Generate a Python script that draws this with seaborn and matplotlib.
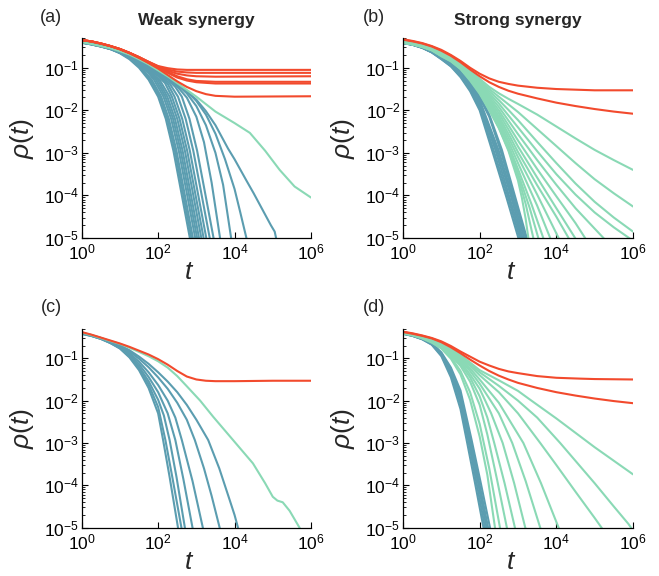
import numpy as np
import pandas as pd
import seaborn as sns
import matplotlib.pyplot as plt
from matplotlib.ticker import LogLocator, NullLocator

# curves are stored as (log10 t, log10 rho) pairs
BLUE = "#5b9db0"
GREEN = "#8ad9b5"
RED = "#f24a2d"

# ---------------- panel (a): weak synergy ----------------
A_BLUE = [
    [(0, -0.41), (0.25, -0.45), (0.5, -0.5), (0.75, -0.56), (1, -0.66), (1.25, -0.8), (1.5, -1.0), (1.75, -1.28), (2.0, -1.68), (2.2, -2.2), (2.4, -2.95), (2.6, -3.9), (2.83, -5.0), (2.9, -5.4)],
    [(0, -0.41), (0.25, -0.45), (0.5, -0.5), (0.75, -0.56), (1, -0.65), (1.25, -0.78), (1.5, -0.97), (1.79, -1.28), (2.04, -1.68), (2.24, -2.2), (2.44, -2.95), (2.64, -3.9), (2.87, -5.0), (2.94, -5.4)],
    [(0, -0.41), (0.25, -0.45), (0.5, -0.5), (0.75, -0.56), (1, -0.65), (1.25, -0.77), (1.5, -0.95), (1.83, -1.28), (2.08, -1.68), (2.28, -2.2), (2.48, -2.95), (2.68, -3.9), (2.91, -5.0), (2.98, -5.4)],
    [(0, -0.41), (0.25, -0.45), (0.5, -0.5), (0.75, -0.56), (1, -0.64), (1.25, -0.76), (1.5, -0.93), (1.75, -1.13), (1.89, -1.28), (2.14, -1.68), (2.34, -2.2), (2.54, -2.95), (2.74, -3.9), (2.97, -5.0), (3.04, -5.4)],
    [(0, -0.4), (0.25, -0.44), (0.5, -0.49), (0.75, -0.55), (1, -0.64), (1.25, -0.75), (1.5, -0.91), (1.75, -1.1), (1.94, -1.28), (2.19, -1.68), (2.39, -2.2), (2.59, -2.95), (2.79, -3.9), (3.02, -5.0), (3.09, -5.4)],
    [(0, -0.4), (0.25, -0.44), (0.5, -0.49), (0.75, -0.55), (1, -0.63), (1.25, -0.74), (1.5, -0.9), (1.75, -1.08), (1.99, -1.28), (2.24, -1.68), (2.44, -2.2), (2.64, -2.95), (2.84, -3.9), (3.07, -5.0), (3.14, -5.4)],
    [(0, -0.4), (0.25, -0.44), (0.5, -0.49), (0.75, -0.55), (1, -0.63), (1.25, -0.73), (1.5, -0.88), (1.75, -1.05), (2.05, -1.3), (2.3, -1.68), (2.5, -2.2), (2.7, -2.95), (2.9, -3.9), (3.13, -5.0), (3.2, -5.4)],
    [(0, -0.4), (0.25, -0.44), (0.5, -0.49), (0.75, -0.55), (1, -0.62), (1.25, -0.72), (1.5, -0.87), (1.75, -1.03), (2.0, -1.2), (2.18, -1.36), (2.36, -1.68), (2.56, -2.2), (2.76, -2.95), (2.96, -3.9), (3.19, -5.0), (3.26, -5.4)],
    [(0, -0.4), (0.25, -0.44), (0.5, -0.49), (0.75, -0.55), (1, -0.62), (1.25, -0.72), (1.5, -0.86), (1.75, -1.01), (2.0, -1.17), (2.25, -1.38), (2.43, -1.68), (2.63, -2.2), (2.83, -2.95), (3.03, -3.9), (3.26, -5.0), (3.33, -5.4)],
    [(0, -0.4), (0.25, -0.44), (0.5, -0.49), (0.75, -0.55), (1, -0.61), (1.25, -0.71), (1.5, -0.85), (1.75, -0.99), (2.0, -1.14), (2.3, -1.37), (2.52, -1.68), (2.72, -2.2), (2.92, -2.95), (3.12, -3.9), (3.35, -5.0), (3.42, -5.4)],
    [(0, -0.4), (0.25, -0.44), (0.5, -0.49), (0.75, -0.55), (1, -0.61), (1.25, -0.7), (1.5, -0.84), (1.75, -0.98), (2.0, -1.12), (2.25, -1.28), (2.45, -1.45), (2.62, -1.68), (2.82, -2.2), (3.02, -2.95), (3.22, -3.9), (3.45, -5.0), (3.52, -5.4)],
    [(0, -0.4), (0.25, -0.44), (0.5, -0.49), (0.75, -0.54), (1, -0.61), (1.25, -0.7), (1.5, -0.82), (1.75, -0.95), (2, -1.11), (2.25, -1.26), (2.5, -1.44), (2.75, -1.7), (3.0, -2.15), (3.2, -2.75), (3.4, -3.7), (3.62, -5.0), (3.67, -5.4)],
    [(0, -0.4), (0.25, -0.44), (0.5, -0.49), (0.75, -0.54), (1, -0.61), (1.25, -0.7), (1.5, -0.81), (1.75, -0.94), (2, -1.1), (2.25, -1.24), (2.5, -1.4), (2.75, -1.6), (3.0, -1.9), (3.25, -2.35), (3.5, -3.0), (3.7, -3.75), (3.91, -5.0), (3.95, -5.3)],
    [(0, -0.4), (0.25, -0.44), (0.5, -0.49), (0.75, -0.54), (1, -0.61), (1.25, -0.7), (1.5, -0.81), (1.75, -0.94), (2, -1.09), (2.5, -1.38), (2.75, -1.55), (3.0, -1.78), (3.25, -2.1), (3.5, -2.55), (3.75, -3.15), (4.0, -3.85), (4.15, -4.4), (4.31, -5.0), (4.35, -5.3)],
    [(0, -0.4), (0.25, -0.44), (0.5, -0.49), (0.75, -0.54), (1, -0.61), (1.25, -0.7), (1.5, -0.81), (1.75, -0.94), (2, -1.08), (2.5, -1.37), (3.0, -1.75), (3.25, -2.02), (3.5, -2.35), (3.83, -2.9), (4.0, -3.15), (4.31, -3.65), (4.5, -3.95), (4.74, -4.35), (4.95, -4.7), (5.05, -4.85), (5.11, -5.1)],
]
A_GREEN = [
    [(0, -0.4), (0.25, -0.44), (0.5, -0.49), (0.75, -0.54), (1, -0.61), (1.25, -0.69), (1.5, -0.8), (1.75, -0.92), (2, -1.06), (2.25, -1.2), (2.5, -1.36), (2.75, -1.52), (3, -1.68), (3.5, -2.03), (4, -2.3), (4.4, -2.53), (4.8, -2.95), (5.18, -3.4), (5.57, -3.79), (6, -4.05)],
]
A_RED = [
    [(0, -0.35), (0.25, -0.38), (0.5, -0.43), (0.75, -0.49), (1, -0.56), (1.25, -0.65), (1.5, -0.75), (1.75, -0.86), (2, -0.96), (2.25, -1.01), (2.5, -1.04), (2.75, -1.05), (3, -1.05), (6, -1.05)],
    [(0, -0.35), (0.25, -0.38), (0.5, -0.43), (0.75, -0.49), (1, -0.56), (1.25, -0.65), (1.5, -0.75), (1.75, -0.86), (2, -0.97), (2.25, -1.04), (2.5, -1.09), (2.75, -1.11), (3, -1.12), (6, -1.12)],
    [(0, -0.35), (0.25, -0.38), (0.5, -0.43), (0.75, -0.49), (1, -0.56), (1.25, -0.65), (1.5, -0.75), (1.75, -0.87), (2, -0.98), (2.25, -1.07), (2.5, -1.14), (2.75, -1.18), (3, -1.2), (3.5, -1.21), (6, -1.2)],
    [(0, -0.35), (0.25, -0.38), (0.5, -0.43), (0.75, -0.49), (1, -0.56), (1.25, -0.65), (1.5, -0.76), (1.75, -0.87), (2, -0.99), (2.25, -1.1), (2.5, -1.2), (2.75, -1.27), (3, -1.31), (3.5, -1.33), (6, -1.33)],
    [(0, -0.35), (0.25, -0.38), (0.5, -0.43), (0.75, -0.49), (1, -0.56), (1.25, -0.65), (1.5, -0.76), (1.75, -0.88), (2, -1.0), (2.25, -1.12), (2.5, -1.23), (2.75, -1.3), (3, -1.34), (3.5, -1.37), (6, -1.37)],
    [(0, -0.35), (0.25, -0.38), (0.5, -0.43), (0.75, -0.49), (1, -0.57), (1.25, -0.66), (1.5, -0.77), (1.75, -0.89), (2, -1.02), (2.25, -1.17), (2.5, -1.32), (2.75, -1.45), (3, -1.55), (3.25, -1.62), (3.5, -1.66), (4, -1.68), (6, -1.67)],
]

# ---------------- panel (b): strong synergy ----------------
B_BLUE = [
    [(0, -0.42), (0.25, -0.46), (0.5, -0.53), (0.75, -0.64), (1, -0.8), (1.25, -0.97), (1.5, -1.22), (1.75, -1.55), (2.0, -2.0), (2.32, -2.93), (2.7, -4.05), (3.01, -5.0), (3.05, -5.15)],
    [(0, -0.42), (0.25, -0.46), (0.5, -0.53), (0.75, -0.64), (1, -0.79), (1.25, -0.96), (1.5, -1.19), (1.75, -1.51), (2.0, -1.94), (2.36, -2.93), (2.74, -4.04), (3.05, -5.0), (3.09, -5.15)],
    [(0, -0.42), (0.25, -0.46), (0.5, -0.53), (0.75, -0.63), (1, -0.78), (1.25, -0.94), (1.5, -1.16), (1.75, -1.47), (2.0, -1.88), (2.41, -2.93), (2.77, -4.02), (3.09, -5.0), (3.13, -5.15)],
    [(0, -0.42), (0.25, -0.46), (0.5, -0.53), (0.75, -0.63), (1, -0.77), (1.25, -0.93), (1.5, -1.14), (1.75, -1.43), (2.0, -1.82), (2.45, -2.93), (2.81, -4.0), (3.12, -5.0), (3.16, -5.15)],
    [(0, -0.41), (0.25, -0.45), (0.5, -0.52), (0.75, -0.62), (1, -0.76), (1.25, -0.91), (1.5, -1.12), (1.75, -1.4), (2.0, -1.76), (2.49, -2.93), (2.84, -3.98), (3.16, -5.0), (3.2, -5.15)],
    [(0, -0.41), (0.25, -0.45), (0.5, -0.52), (0.75, -0.62), (1, -0.75), (1.25, -0.9), (1.5, -1.1), (1.75, -1.36), (2.0, -1.7), (2.25, -2.15), (2.54, -2.93), (2.87, -3.96), (3.2, -5.0), (3.24, -5.15)],
    [(0, -0.41), (0.25, -0.45), (0.5, -0.52), (0.75, -0.61), (1, -0.74), (1.25, -0.88), (1.5, -1.07), (1.75, -1.32), (2.0, -1.65), (2.25, -2.1), (2.58, -2.93), (2.9, -3.95), (3.23, -5.0), (3.27, -5.15)],
]
B_GREEN = [
    [(0, -0.38), (0.25, -0.42), (0.5, -0.47), (0.75, -0.53), (1, -0.6), (1.25, -0.72), (1.5, -0.86), (1.75, -1.05), (2, -1.26), (2.25, -1.45), (2.5, -1.6), (2.75, -1.73), (3, -1.85), (3.5, -2.1), (4, -2.38), (4.5, -2.66), (5, -2.93), (5.5, -3.17), (6, -3.4)],
    [(0, -0.38), (0.25, -0.42), (0.5, -0.47), (0.75, -0.53), (1, -0.61), (1.25, -0.73), (1.5, -0.88), (1.75, -1.08), (2, -1.3), (2.25, -1.5), (2.5, -1.68), (2.75, -1.86), (3, -2.04), (3.5, -2.44), (4, -2.84), (4.5, -3.24), (5, -3.62), (5.5, -3.95), (6, -4.26)],
    [(0, -0.39), (0.25, -0.43), (0.5, -0.48), (0.75, -0.54), (1, -0.62), (1.25, -0.74), (1.5, -0.9), (1.75, -1.1), (2, -1.33), (2.25, -1.55), (2.5, -1.76), (2.75, -1.99), (3, -2.23), (3.5, -2.74), (4, -3.24), (4.5, -3.72), (5, -4.15), (5.5, -4.52), (6, -4.85)],
    [(0, -0.39), (0.25, -0.43), (0.5, -0.48), (0.75, -0.54), (1, -0.63), (1.25, -0.75), (1.5, -0.92), (1.75, -1.12), (2, -1.36), (2.25, -1.6), (2.5, -1.84), (2.75, -2.12), (3, -2.4), (3.5, -2.96), (4, -3.5), (4.5, -3.98), (5, -4.4), (5.5, -4.75), (5.93, -5.02)],
    [(0, -0.39), (0.25, -0.43), (0.5, -0.48), (0.75, -0.55), (1, -0.64), (1.25, -0.76), (1.5, -0.93), (1.75, -1.14), (2, -1.39), (2.25, -1.65), (2.5, -1.92), (2.75, -2.24), (3, -2.56), (3.5, -3.17), (4, -3.75), (4.5, -4.3), (5, -4.78), (5.23, -5.0), (5.3, -5.08)],
    [(0, -0.4), (0.25, -0.44), (0.5, -0.49), (0.75, -0.55), (1, -0.65), (1.25, -0.77), (1.5, -0.94), (1.75, -1.16), (2, -1.42), (2.25, -1.7), (2.5, -2.0), (2.75, -2.35), (3, -2.71), (3.5, -3.38), (4, -4.02), (4.5, -4.65), (4.75, -5.0), (4.8, -5.08)],
    [(0, -0.4), (0.25, -0.44), (0.5, -0.49), (0.75, -0.56), (1, -0.66), (1.25, -0.78), (1.5, -0.96), (1.75, -1.18), (2, -1.45), (2.25, -1.75), (2.5, -2.07), (2.75, -2.45), (3, -2.85), (3.5, -3.58), (4, -4.3), (4.49, -5.0), (4.54, -5.08)],
    [(0, -0.4), (0.25, -0.44), (0.5, -0.49), (0.75, -0.56), (1, -0.67), (1.25, -0.79), (1.5, -0.97), (1.75, -1.2), (2, -1.48), (2.25, -1.8), (2.5, -2.14), (2.75, -2.55), (3, -2.98), (3.5, -3.76), (4, -4.5), (4.32, -5.0), (4.37, -5.08)],
    [(0, -0.4), (0.25, -0.44), (0.5, -0.5), (0.75, -0.57), (1, -0.68), (1.25, -0.8), (1.5, -0.98), (1.75, -1.22), (2, -1.5), (2.25, -1.84), (2.5, -2.2), (2.75, -2.64), (3, -3.1), (3.5, -3.98), (4.06, -5.0), (4.1, -5.08)],
    [(0, -0.41), (0.25, -0.45), (0.5, -0.5), (0.75, -0.57), (1, -0.69), (1.25, -0.81), (1.5, -0.99), (1.75, -1.24), (2, -1.53), (2.25, -1.88), (2.5, -2.26), (2.75, -2.73), (3, -3.24), (3.5, -4.24), (3.84, -5.0), (3.88, -5.08)],
    [(0, -0.41), (0.25, -0.45), (0.5, -0.5), (0.75, -0.58), (1, -0.7), (1.25, -0.82), (1.5, -1.0), (1.75, -1.25), (2, -1.55), (2.25, -1.92), (2.5, -2.32), (2.75, -2.82), (3, -3.38), (3.35, -4.2), (3.66, -5.0), (3.7, -5.08)],
    [(0, -0.41), (0.25, -0.45), (0.5, -0.51), (0.75, -0.58), (1, -0.71), (1.25, -0.83), (1.5, -1.01), (1.75, -1.27), (2, -1.57), (2.25, -1.95), (2.5, -2.37), (2.75, -2.88), (3, -3.48), (3.3, -4.28), (3.53, -5.0), (3.57, -5.08)],
    [(0, -0.41), (0.25, -0.45), (0.5, -0.51), (0.75, -0.59), (1, -0.72), (1.25, -0.84), (1.5, -1.02), (1.75, -1.28), (2, -1.59), (2.25, -1.98), (2.5, -2.4), (2.75, -2.92), (3, -3.55), (3.2, -4.2), (3.4, -5.0), (3.44, -5.1)],
    [(0, -0.41), (0.25, -0.45), (0.5, -0.51), (0.75, -0.59), (1, -0.73), (1.25, -0.85), (1.5, -1.03), (1.75, -1.3), (2, -1.61), (2.25, -2.0), (2.5, -2.42), (2.75, -2.95), (3, -3.65), (3.1, -4.05), (3.2, -4.55), (3.27, -5.0), (3.3, -5.1)],
]
B_RED = [
    [(0, -0.33), (0.25, -0.37), (0.5, -0.42), (0.75, -0.49), (1, -0.58), (1.25, -0.7), (1.5, -0.84), (1.75, -1.0), (2, -1.14), (2.25, -1.25), (2.5, -1.33), (2.75, -1.38), (3, -1.42), (3.5, -1.47), (4, -1.5), (5, -1.53), (6, -1.53)],
    [(0, -0.34), (0.25, -0.38), (0.5, -0.43), (0.75, -0.5), (1, -0.6), (1.25, -0.72), (1.5, -0.87), (1.75, -1.04), (2, -1.2), (2.25, -1.34), (2.5, -1.45), (2.75, -1.54), (3, -1.61), (3.5, -1.72), (4, -1.82), (4.5, -1.9), (5, -1.97), (5.5, -2.03), (6, -2.08)],
]

# ---------------- panel (c) ----------------
C_BLUE = [
    [(0, -0.42), (0.25, -0.47), (0.5, -0.54), (0.75, -0.64), (1, -0.77), (1.25, -0.98), (1.5, -1.28), (1.75, -1.7), (2.0, -2.3), (2.13, -2.93), (2.3, -3.8), (2.52, -5.0), (2.56, -5.25)],
    [(0, -0.42), (0.25, -0.47), (0.5, -0.54), (0.75, -0.64), (1, -0.76), (1.25, -0.96), (1.5, -1.24), (1.75, -1.62), (2.0, -2.15), (2.19, -2.93), (2.38, -3.85), (2.61, -5.0), (2.65, -5.25)],
    [(0, -0.42), (0.25, -0.47), (0.5, -0.54), (0.75, -0.63), (1, -0.75), (1.25, -0.94), (1.5, -1.2), (1.75, -1.54), (2.0, -1.98), (2.15, -2.35), (2.3, -2.93), (2.48, -3.8), (2.7, -5.0), (2.74, -5.25)],
    [(0, -0.41), (0.25, -0.46), (0.5, -0.53), (0.75, -0.62), (1, -0.73), (1.25, -0.91), (1.5, -1.14), (1.75, -1.44), (2.0, -1.8), (2.25, -2.3), (2.45, -2.93), (2.66, -3.85), (2.9, -5.0), (2.94, -5.25)],
    [(0, -0.41), (0.25, -0.46), (0.5, -0.53), (0.75, -0.62), (1, -0.72), (1.25, -0.88), (1.5, -1.08), (1.75, -1.33), (2.0, -1.63), (2.25, -2.0), (2.45, -2.4), (2.62, -2.93), (2.9, -3.9), (3.17, -5.0), (3.21, -5.25)],
    [(0, -0.41), (0.25, -0.46), (0.5, -0.52), (0.75, -0.61), (1, -0.7), (1.25, -0.84), (1.5, -1.01), (1.75, -1.21), (2.0, -1.45), (2.25, -1.72), (2.5, -2.05), (2.75, -2.45), (2.96, -2.93), (3.2, -3.6), (3.4, -4.25), (3.61, -5.0), (3.65, -5.25)],
    [(0, -0.4), (0.25, -0.45), (0.5, -0.52), (0.75, -0.6), (1, -0.69), (1.25, -0.81), (1.5, -0.96), (1.75, -1.13), (2.0, -1.33), (2.25, -1.55), (2.5, -1.8), (2.75, -2.1), (3.0, -2.45), (3.31, -2.93), (3.6, -3.6), (3.87, -4.34), (4.0, -4.7), (4.09, -5.0), (4.12, -5.2)],
]
C_GREEN = [
    [(0, -0.39), (0.25, -0.45), (0.5, -0.52), (0.75, -0.59), (1, -0.66), (1.25, -0.75), (1.5, -0.85), (1.75, -0.95), (2, -1.07), (2.25, -1.22), (2.5, -1.42), (2.75, -1.66), (3.1, -2.0), (3.44, -2.38), (3.96, -2.93), (4.48, -3.48), (4.8, -3.95), (5.0, -4.27), (5.12, -4.36), (5.26, -4.4), (5.44, -4.6), (5.7, -5.0), (5.75, -5.1)],
]
C_RED = [
    [(0, -0.38), (0.25, -0.44), (0.5, -0.51), (0.75, -0.58), (1, -0.65), (1.25, -0.73), (1.5, -0.82), (1.75, -0.91), (2, -1.02), (2.25, -1.15), (2.5, -1.3), (2.75, -1.43), (3, -1.5), (3.25, -1.53), (3.5, -1.54), (4, -1.54), (5, -1.53), (6, -1.53)],
]

# ---------------- panel (d) ----------------
D_BLUE = [
    [(0, -0.42), (0.25, -0.47), (0.5, -0.55), (0.75, -0.68), (1.0, -0.95), (1.25, -1.45), (1.5, -2.2), (1.66, -2.93), (1.88, -3.95), (2.1, -5.0), (2.14, -5.2)],
    [(0, -0.42), (0.25, -0.47), (0.5, -0.55), (0.75, -0.67), (1.0, -0.92), (1.25, -1.38), (1.5, -2.07), (1.7, -2.93), (1.92, -3.95), (2.14, -5.0), (2.18, -5.2)],
    [(0, -0.42), (0.25, -0.47), (0.5, -0.54), (0.75, -0.66), (1.0, -0.9), (1.25, -1.32), (1.5, -1.95), (1.73, -2.93), (1.96, -3.95), (2.18, -5.0), (2.22, -5.2)],
    [(0, -0.41), (0.25, -0.46), (0.5, -0.54), (0.75, -0.65), (1.0, -0.88), (1.25, -1.27), (1.5, -1.85), (1.76, -2.93), (1.99, -3.95), (2.22, -5.0), (2.26, -5.2)],
    [(0, -0.41), (0.25, -0.46), (0.5, -0.53), (0.75, -0.64), (1.0, -0.86), (1.25, -1.22), (1.5, -1.76), (1.79, -2.93), (2.03, -3.95), (2.27, -5.0), (2.31, -5.2)],
]
D_GREEN = [
    [(0, -0.38), (0.25, -0.43), (0.5, -0.49), (0.75, -0.57), (1, -0.66), (1.25, -0.78), (1.5, -0.92), (1.75, -1.1), (2, -1.28), (2.5, -1.52), (3, -1.77), (3.32, -1.98), (4, -2.42), (4.5, -2.76), (5, -3.1), (5.5, -3.42), (6, -3.74)],
    [(0, -0.38), (0.25, -0.43), (0.5, -0.49), (0.75, -0.57), (1, -0.67), (1.25, -0.8), (1.5, -0.95), (1.75, -1.14), (2, -1.33), (2.5, -1.65), (3, -2.0), (3.5, -2.4), (4.1, -3.0), (5, -3.95), (5.5, -4.5), (5.88, -4.91), (5.95, -5.0)],
    [(0, -0.39), (0.25, -0.43), (0.5, -0.5), (0.75, -0.58), (1, -0.68), (1.25, -0.82), (1.5, -0.98), (1.75, -1.18), (2, -1.4), (2.5, -1.8), (3, -2.3), (3.58, -3.0), (4, -3.52), (4.5, -4.15), (5, -4.77), (5.18, -5.0), (5.22, -5.06)],
    [(0, -0.39), (0.25, -0.43), (0.5, -0.5), (0.75, -0.58), (1, -0.69), (1.25, -0.84), (1.5, -1.0), (1.75, -1.24), (2, -1.5), (2.5, -2.05), (3.14, -3.0), (3.6, -3.95), (4.06, -5.0), (4.1, -5.08)],
    [(0, -0.39), (0.25, -0.44), (0.5, -0.5), (0.75, -0.59), (1, -0.7), (1.25, -0.86), (1.5, -1.04), (1.75, -1.3), (2, -1.6), (2.5, -2.3), (2.85, -3.0), (3.2, -3.9), (3.58, -5.0), (3.62, -5.08)],
    [(0, -0.4), (0.25, -0.44), (0.5, -0.51), (0.75, -0.59), (1, -0.71), (1.25, -0.88), (1.5, -1.08), (1.75, -1.38), (2, -1.72), (2.3, -2.3), (2.6, -3.0), (2.9, -3.95), (3.19, -5.0), (3.23, -5.08)],
    [(0, -0.4), (0.25, -0.44), (0.5, -0.51), (0.75, -0.6), (1, -0.72), (1.25, -0.91), (1.5, -1.13), (1.75, -1.45), (2, -1.9), (2.2, -2.4), (2.38, -3.0), (2.65, -3.95), (2.92, -5.0), (2.96, -5.1)],
    [(0, -0.4), (0.25, -0.45), (0.5, -0.52), (0.75, -0.61), (1, -0.73), (1.25, -0.94), (1.5, -1.18), (1.75, -1.55), (2.0, -2.1), (2.2, -2.8), (2.45, -3.85), (2.71, -5.0), (2.75, -5.1)],
    [(0, -0.41), (0.25, -0.45), (0.5, -0.52), (0.75, -0.62), (1, -0.75), (1.25, -0.97), (1.5, -1.3), (1.75, -1.8), (2.0, -2.55), (2.25, -3.6), (2.53, -5.0), (2.57, -5.2)],
    [(0, -0.41), (0.25, -0.46), (0.5, -0.53), (0.75, -0.63), (1, -0.77), (1.25, -1.01), (1.5, -1.38), (1.75, -1.98), (2.0, -2.85), (2.2, -3.75), (2.4, -5.0), (2.44, -5.2)],
]
D_RED = [
    [(0, -0.37), (0.25, -0.41), (0.5, -0.46), (0.75, -0.52), (1, -0.6), (1.25, -0.71), (1.5, -0.84), (1.75, -0.96), (2, -1.08), (2.25, -1.17), (2.5, -1.25), (2.75, -1.31), (3, -1.35), (3.5, -1.42), (4, -1.46), (4.62, -1.48), (5, -1.49), (6, -1.5)],
    [(0, -0.38), (0.25, -0.42), (0.5, -0.47), (0.75, -0.53), (1, -0.62), (1.25, -0.74), (1.5, -0.88), (1.75, -1.03), (2, -1.17), (2.25, -1.3), (2.5, -1.41), (2.75, -1.5), (3, -1.58), (3.5, -1.7), (4, -1.8), (4.5, -1.88), (5, -1.95), (5.5, -2.01), (6, -2.06)],
]

PANELS = [
    ("(a)", "Weak synergy", A_BLUE, A_GREEN, A_RED),
    ("(b)", "Strong synergy", B_BLUE, B_GREEN, B_RED),
    ("(c)", None, C_BLUE, C_GREEN, C_RED),
    ("(d)", None, D_BLUE, D_GREEN, D_RED),
]

# axes boxes in figure pixels: left, bottom-y, right, top-y
BOXES = [(81.7, 238.0, 311.0, 38.0), (403.0, 238.0, 633.0, 38.0),
         (81.7, 527.7, 311.0, 328.7), (403.0, 527.7, 633.0, 328.7)]
LABEL_XY = [(51, 18), (374, 18), (51, 308), (374, 308)]
W, H = 659, 576


def curves_frame(blue, green, red):
    rows = []
    for kind, group in (("blue", blue), ("green", green), ("red", red)):
        for i, curve in enumerate(group):
            for lt, lr in curve:
                rows.append({"t": 10 ** lt, "rho": 10 ** lr, "curve": f"{kind}{i}", "kind": kind})
    return pd.DataFrame(rows)


sns.set_theme(style="ticks")
plt.rcParams["font.family"] = ["Liberation Sans", "DejaVu Sans"]
plt.rcParams["mathtext.fontset"] = "custom"
plt.rcParams["mathtext.rm"] = "Liberation Sans"
plt.rcParams["mathtext.it"] = "Liberation Sans:italic"

fig = plt.figure(figsize=(W / 100, H / 100), dpi=100)

for (lab, title, blue, green, red), (x0, yb, x1, yt), (lx, ly) in zip(PANELS, BOXES, LABEL_XY):
    ax = fig.add_axes([x0 / W, 1 - yb / H, (x1 - x0) / W, (yb - yt) / H])
    df = curves_frame(blue, green, red)
    sns.lineplot(data=df, x="t", y="rho", hue="kind", units="curve", estimator=None,
                 sort=False, hue_order=["blue", "green", "red"],
                 palette={"blue": BLUE, "green": GREEN, "red": RED},
                 lw=1.5, legend=False, ax=ax)
    ax.set_xscale("log")
    ax.set_yscale("log")
    ax.set_xlim(1, 1e6)
    ax.set_ylim(1e-5, 0.5)
    ax.set_xticks([1, 1e2, 1e4, 1e6])
    ax.xaxis.set_minor_locator(NullLocator())
    ax.yaxis.set_major_locator(LogLocator(base=10, numticks=10))
    ax.yaxis.set_minor_locator(LogLocator(base=10, subs=np.arange(2, 10), numticks=20))
    ax.tick_params(which="major", direction="in", length=4, width=0.8, labelsize=12.5, colors="black")
    ax.tick_params(axis="y", which="major", pad=2)
    ax.tick_params(axis="x", which="major", pad=3.5)
    ax.tick_params(which="minor", direction="in", length=2, width=0.6, colors="black")
    sns.despine(ax=ax)
    for s in ("left", "bottom"):
        ax.spines[s].set_color("black")
        ax.spines[s].set_linewidth(0.9)
    ax.set_ylabel(r"$\rho(t)$", fontsize=19)
    ax.yaxis.set_label_coords(-0.262, 0.5)
    ax.set_xlabel(r"$t$", fontsize=19)
    ax.xaxis.set_label_coords(0.47, -0.17)
    ax.xaxis.label.set_verticalalignment("center")
    ax.yaxis.label.set_verticalalignment("center")
    if title:
        ax.text(0.5, 1.09, title, ha="center", va="center", fontweight="bold",
                fontsize=12.5, transform=ax.transAxes)
    fig.text(lx / W, 1 - ly / H, lab, ha="center", va="center", fontsize=13)

fig.savefig("out.png", dpi=100)
